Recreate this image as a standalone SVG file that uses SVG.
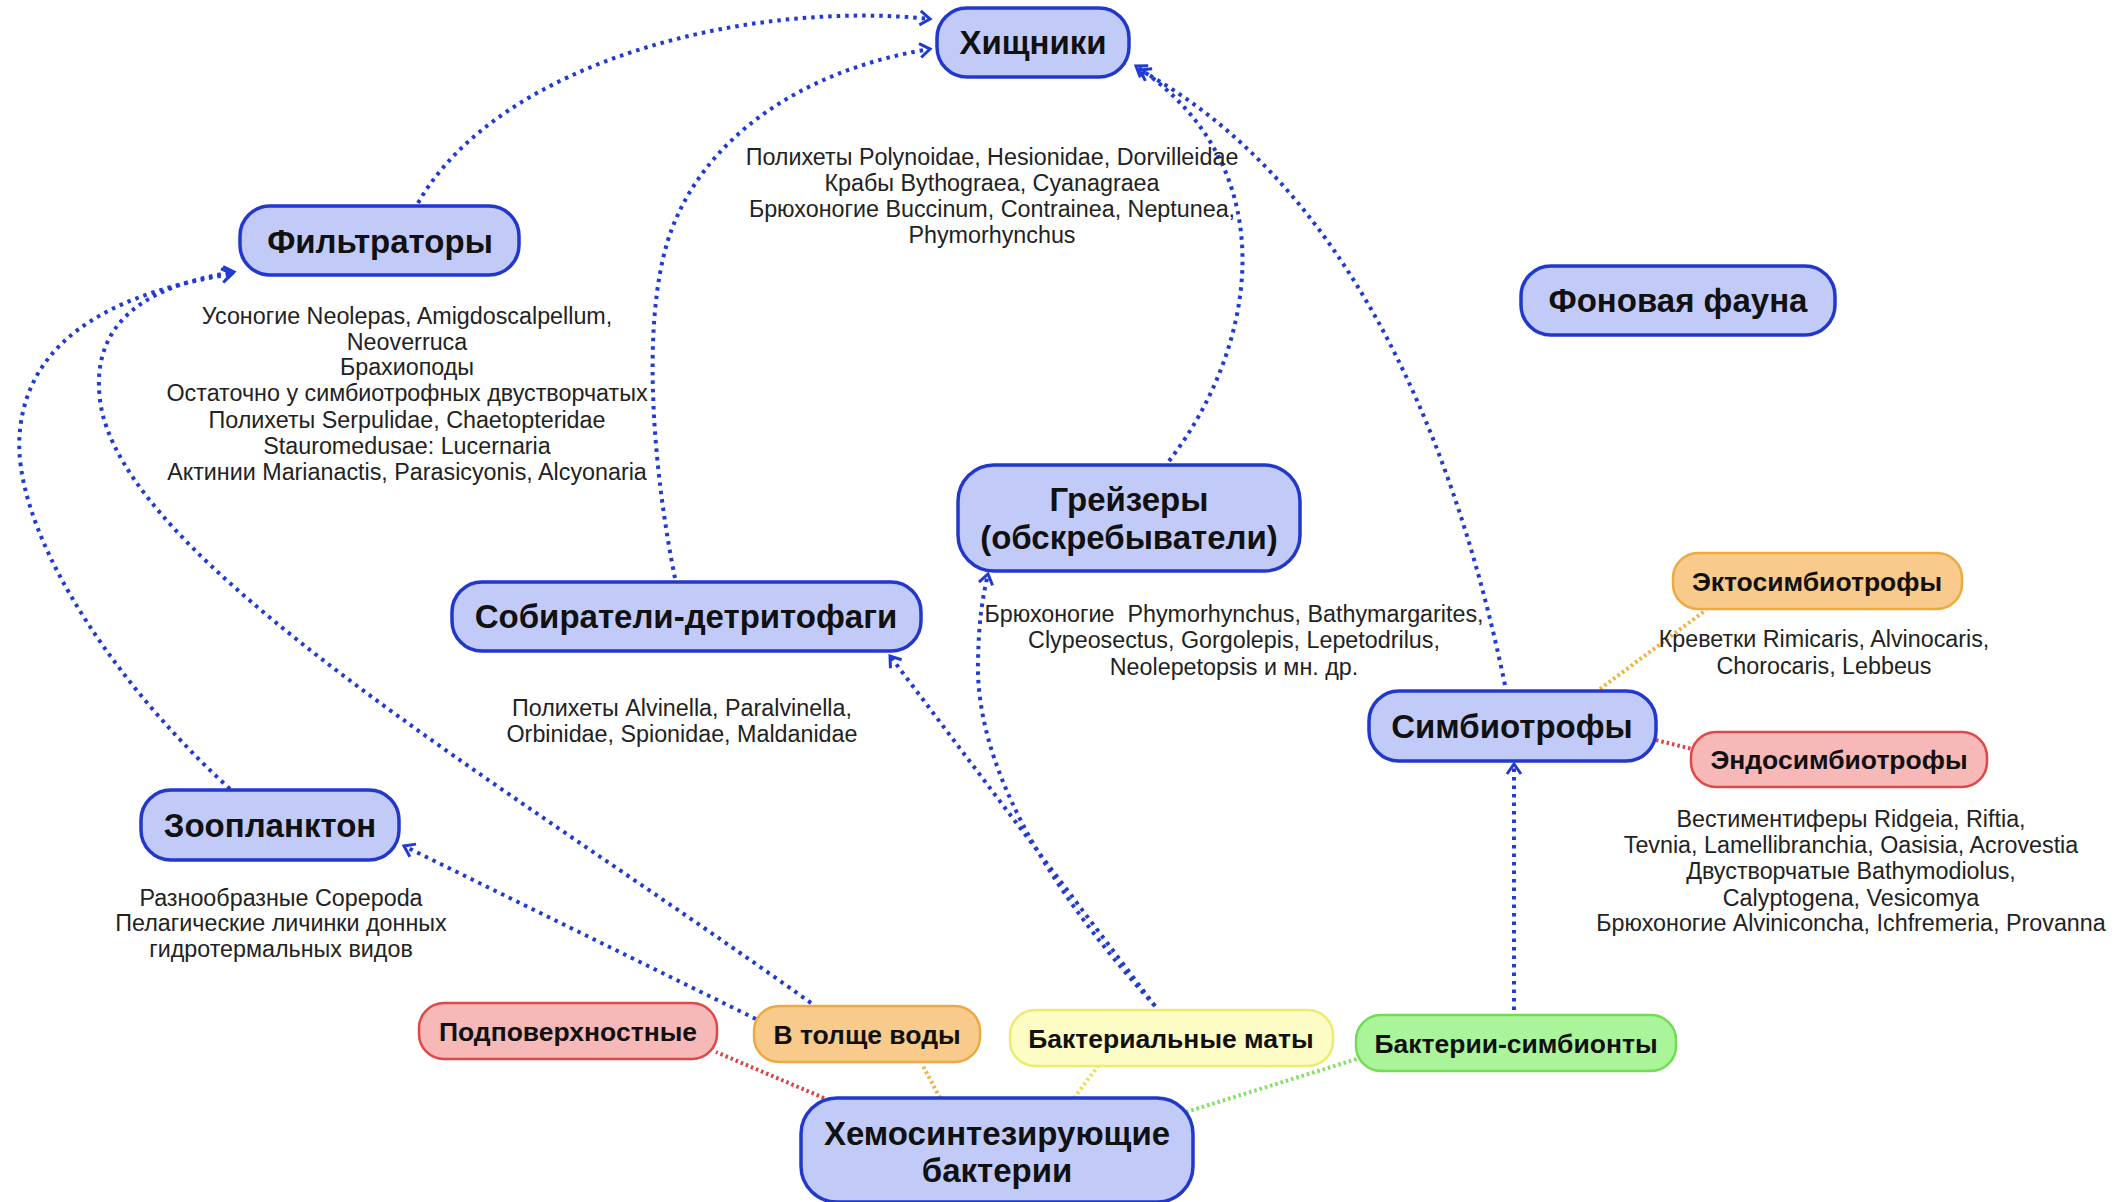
<svg xmlns="http://www.w3.org/2000/svg" width="2126" height="1202" viewBox="0 0 2126 1202">
<defs>
<style>
.bn{fill:#c2cbf8;stroke:#2238cc;stroke-width:3.5}
.rn{fill:#f7b8b8;stroke:#e04848;stroke-width:2.5}
.on{fill:#f8cb8c;stroke:#eeaa40;stroke-width:2.5}
.yn{fill:#fcfcc4;stroke:#ecec70;stroke-width:2.5}
.gn{fill:#aaf59a;stroke:#72dc55;stroke-width:2.5}
.lbl{font-family:"Liberation Sans",Arial,sans-serif;font-weight:bold;font-size:33px;fill:#111;text-anchor:middle}
.sl{font-family:"Liberation Sans",Arial,sans-serif;font-weight:bold;font-size:26.5px;fill:#111;text-anchor:middle}
.d{font-family:"Liberation Sans",Arial,sans-serif;font-size:23.3px;fill:#222;text-anchor:middle}
.c{fill:none;stroke:#1f3bd4;stroke-width:4;stroke-dasharray:3.5 5;marker-end:url(#ar)}
.u{fill:none;stroke-width:4;stroke-dasharray:2.5 3}
</style>
<marker id="ar" markerUnits="userSpaceOnUse" markerWidth="20" markerHeight="20" refX="12" refY="8" orient="auto" viewBox="0 0 20 16">
<path d="M2,1 L12,8 L2,15" fill="none" stroke="#1f3bd4" stroke-width="3"/>
</marker>
</defs>
<rect width="2126" height="1202" fill="#fff"/>
<g id="connectors">
<path class="c" d="M418,203 C500,60 750,0 930,19"/>
<path class="c" d="M675,578 C655,480 640,330 668,240 C700,140 800,70 930,49"/>
<path class="c" d="M1169,461 C1255,350 1290,170 1136,66"/>
<path class="c" d="M1505,685 C1450,420 1340,180 1140,70"/>
<path class="c" d="M230,789 C100,670 10,520 20,430 C30,330 130,290 232,274"/>
<path class="c" d="M811,1003 C500,780 120,560 100,400 C90,320 150,285 234,272"/>
<path class="c" d="M756,1019 L404,846"/>
<path class="c" d="M1155,1006 L890,656"/>
<path class="c" d="M1155,1006 C1040,880 975,760 978,660 C979,620 982,600 988,574"/>
<path class="c" d="M1514,1010 L1514,764"/>
<path class="u" stroke="#f0b040" d="M1600,689 L1706,610"/>
<path class="u" stroke="#e04040" d="M1656,740 L1692,749"/>
<path class="u" stroke="#e04040" d="M824,1098 L716,1052"/>
<path class="u" stroke="#f0b040" d="M940,1098 L922,1064"/>
<path class="u" stroke="#e8e050" d="M1074,1098 L1098,1066"/>
<path class="u" stroke="#80e060" d="M1186,1112 L1360,1058"/>
</g>
<g id="n-hishniki"><rect class="bn" x="937" y="8" width="192" height="69" rx="30"/><text class="lbl" x="1033" y="54">Хищники</text></g>
<g id="n-filtratory"><rect class="bn" x="240" y="206" width="279" height="69" rx="30"/><text class="lbl" x="380" y="253">Фильтраторы</text></g>
<g id="n-fon"><rect class="bn" x="1521" y="266" width="314" height="69" rx="30"/><text class="lbl" x="1678" y="312">Фоновая фауна</text></g>
<g id="n-greyzery"><rect class="bn" x="958" y="465" width="342" height="106" rx="36"/><text class="lbl" x="1129" y="511">Грейзеры</text><text class="lbl" x="1129" y="549">(обскребыватели)</text></g>
<g id="n-sobirateli"><rect class="bn" x="452" y="582" width="469" height="69" rx="30"/><text class="lbl" x="686" y="628">Собиратели-детритофаги</text></g>
<g id="n-simbiotrofy"><rect class="bn" x="1369" y="691" width="287" height="70" rx="30"/><text class="lbl" x="1512" y="738">Симбиотрофы</text></g>
<g id="n-ekto"><rect class="on" x="1673" y="553" width="289" height="56" rx="25"/><text class="sl" x="1817" y="591">Эктосимбиотрофы</text></g>
<g id="n-endo"><rect class="rn" x="1691" y="732" width="296" height="55" rx="25"/><text class="sl" x="1839" y="769">Эндосимбиотрофы</text></g>
<g id="n-zoo"><rect class="bn" x="141" y="790" width="258" height="70" rx="30"/><text class="lbl" x="270" y="837">Зоопланктон</text></g>
<g id="n-podpov"><rect class="rn" x="419" y="1003" width="298" height="56" rx="25"/><text class="sl" x="568" y="1041">Подповерхностные</text></g>
<g id="n-tolscha"><rect class="on" x="754" y="1006" width="226" height="56" rx="25"/><text class="sl" x="867" y="1044">В толще воды</text></g>
<g id="n-maty"><rect class="yn" x="1010" y="1010" width="323" height="56" rx="25"/><text class="sl" x="1171" y="1048">Бактериальные маты</text></g>
<g id="n-simbionty"><rect class="gn" x="1356" y="1015" width="320" height="56" rx="25"/><text class="sl" x="1516" y="1053">Бактерии-симбионты</text></g>
<g id="n-hemo"><rect class="bn" x="801" y="1098" width="392" height="104" rx="36"/><text class="lbl" x="997" y="1145">Хемосинтезирующие</text><text class="lbl" x="997" y="1182">бактерии</text></g>
<g id="desc-hishniki">
<text class="d" x="992" y="165">Полихеты Polynoidae, Hesionidae, Dorvilleidae</text>
<text class="d" x="992" y="191">Крабы Bythograea, Cyanagraea</text>
<text class="d" x="992" y="217">Брюхоногие Buccinum, Contrainea, Neptunea,</text>
<text class="d" x="992" y="243">Phymorhynchus</text>
</g>
<g id="desc-filtratory">
<text class="d" x="407" y="324">Усоногие Neolepas, Amigdoscalpellum,</text>
<text class="d" x="407" y="350">Neoverruca</text>
<text class="d" x="407" y="375">Брахиоподы</text>
<text class="d" x="407" y="401">Остаточно у симбиотрофных двустворчатых</text>
<text class="d" x="407" y="428">Полихеты Serpulidae, Chaetopteridae</text>
<text class="d" x="407" y="454">Stauromedusae: Lucernaria</text>
<text class="d" x="407" y="480">Актинии Marianactis, Parasicyonis, Alcyonaria</text>
</g>
<g id="desc-greyzery">
<text class="d" x="1234" y="622" xml:space="preserve">Брюхоногие  Phymorhynchus, Bathymargarites,</text>
<text class="d" x="1234" y="648">Clypeosectus, Gorgolepis, Lepetodrilus,</text>
<text class="d" x="1234" y="675">Neolepetopsis и мн. др.</text>
</g>
<g id="desc-sobirateli">
<text class="d" x="682" y="716">Полихеты Alvinella, Paralvinella,</text>
<text class="d" x="682" y="742">Orbinidae, Spionidae, Maldanidae</text>
</g>
<g id="desc-ekto">
<text class="d" x="1824" y="647">Креветки Rimicaris, Alvinocaris,</text>
<text class="d" x="1824" y="674">Chorocaris, Lebbeus</text>
</g>
<g id="desc-endo">
<text class="d" x="1851" y="827">Вестиментиферы Ridgeia, Riftia,</text>
<text class="d" x="1851" y="853">Tevnia, Lamellibranchia, Oasisia, Acrovestia</text>
<text class="d" x="1851" y="879">Двустворчатые Bathymodiolus,</text>
<text class="d" x="1851" y="906">Calyptogena, Vesicomya</text>
<text class="d" x="1851" y="931">Брюхоногие Alviniconcha, Ichfremeria, Provanna</text>
</g>
<g id="desc-zoo">
<text class="d" x="281" y="906">Разнообразные Copepoda</text>
<text class="d" x="281" y="931">Пелагические личинки донных</text>
<text class="d" x="281" y="957">гидротермальных видов</text>
</g>
</svg>
